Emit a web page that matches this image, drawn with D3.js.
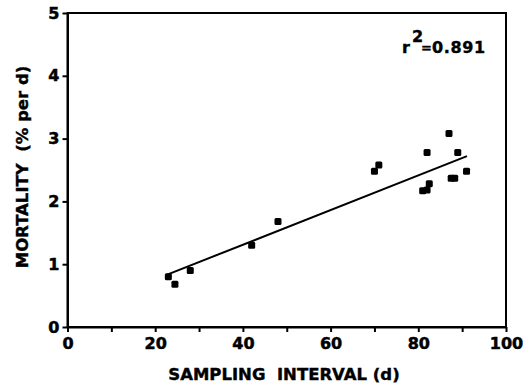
<!DOCTYPE html>
<html>
<head>
<meta charset="utf-8">
<script src="https://cdn.jsdelivr.net/npm/d3@7"></script>
<style>
  body { margin: 0; background: #fff; }
  svg { display: block; }
  .axis text { font-family: "DejaVu Sans", sans-serif; font-weight: bold; fill: #000; stroke: #000; stroke-width: 0.5px; }
  .lbl { font-family: "DejaVu Sans", sans-serif; font-weight: bold; fill: #000; stroke: #000; stroke-width: 0.4px; white-space: pre; }
</style>
</head>
<body>
<div class="chart"></div>
<script>
// sampling interval (d) and mortality (% per d)
var interval  = [23, 24.5, 28, 42, 48, 70, 71, 81, 82, 82.5, 82, 87, 89, 87.5, 88.3, 91];
var mortality = [0.8, 0.68, 0.9, 1.3, 1.68, 2.48, 2.58, 2.17, 2.18, 2.28, 2.78, 3.08, 2.78, 2.37, 2.37, 2.48];

// fitted line end points
var fitX = [22.6, 91.1];
var fitY = [0.83, 2.72];

var xTicks = [0, 10, 20, 30, 40, 50, 60, 70, 80, 90, 100];
var yTicks = [0, 1, 2, 3, 4, 5];
var r2Text = "0.891";

var width = 531, height = 388;
var margin = {left: 67.5, right: 506, top: 13, bottom: 327};

var xScale = d3.scaleLinear().domain([0, 100]).range([margin.left, margin.right]);
var yScale = d3.scaleLinear().domain([0, 5]).range([margin.bottom, margin.top]);

var canvas = d3.select(".chart").append("svg")
  .attr("width", width)
  .attr("height", height);

// frame
canvas.append("rect")
  .attr("x", xScale(0))
  .attr("y", yScale(5))
  .attr("width", xScale(100) - xScale(0))
  .attr("height", yScale(0) - yScale(5))
  .attr("fill", "none")
  .attr("stroke", "#000")
  .attr("stroke-width", 2);

// axes
var xAxis = canvas.append("g")
  .attr("class", "x axis")
  .attr("transform", "translate(0," + margin.bottom + ")")
  .call(d3.axisBottom(xScale)
    .tickValues(xTicks)
    .tickSize(5)
    .tickSizeOuter(0)
    .tickPadding(6)
    .tickFormat(function(d){ return d % 20 == 0 ? d : ""; }));
xAxis.select(".domain").attr("stroke-width", 2);
xAxis.selectAll(".tick line").attr("stroke-width", 2);
xAxis.selectAll("text").style("font-size", "16px");

var yAxis = canvas.append("g")
  .attr("class", "y axis")
  .attr("transform", "translate(" + margin.left + ",0)")
  .call(d3.axisLeft(yScale)
    .tickValues(yTicks)
    .tickSize(5)
    .tickSizeOuter(0)
    .tickPadding(3)
    .tickFormat(d3.format("d")));
yAxis.select(".domain").attr("stroke-width", 2);
yAxis.selectAll(".tick line").attr("stroke-width", 2);
yAxis.selectAll("text").style("font-size", "16px");

// regression line
var line = d3.line()
  .x(function(d){ return xScale(d[0]); })
  .y(function(d){ return yScale(d[1]); });
canvas.append("path")
  .datum(d3.zip(fitX, fitY))
  .attr("d", line)
  .attr("fill", "none")
  .attr("stroke", "#000")
  .attr("stroke-width", 2);

// data points
var s = 7;
canvas.selectAll("rect.pt")
  .data(d3.zip(interval, mortality))
  .enter()
  .append("rect")
  .attr("class", "pt")
  .attr("x", function(d){ return xScale(d[0]) - s / 2; })
  .attr("y", function(d){ return yScale(d[1]) - s / 2; })
  .attr("width", s)
  .attr("height", s)
  .attr("rx", 1.5)
  .attr("fill", "#000");

// axis titles
canvas.append("text")
  .attr("class", "lbl")
  .attr("x", 284)
  .attr("y", 380)
  .attr("text-anchor", "middle")
  .style("font-size", "16.5px")
  .text("SAMPLING  INTERVAL (d)");

canvas.append("text")
  .attr("class", "lbl")
  .attr("transform", "translate(28,167) rotate(-90)")
  .attr("text-anchor", "middle")
  .style("font-size", "16.5px")
  .text("MORTALITY  (% per d)");

// r squared
canvas.append("text").attr("class", "lbl")
  .attr("x", 402).attr("y", 53)
  .style("font-size", "16px").text("r");
canvas.append("text").attr("class", "lbl")
  .attr("x", 412).attr("y", 42)
  .style("font-size", "16px").text("2");
canvas.append("text").attr("class", "lbl")
  .attr("x", 421).attr("y", 52)
  .style("font-size", "13px").text("=");
canvas.append("text").attr("class", "lbl")
  .attr("x", 432).attr("y", 53)
  .style("font-size", "16px")
  .style("letter-spacing", "0.6px")
  .text(r2Text);
</script>
</body>
</html>
